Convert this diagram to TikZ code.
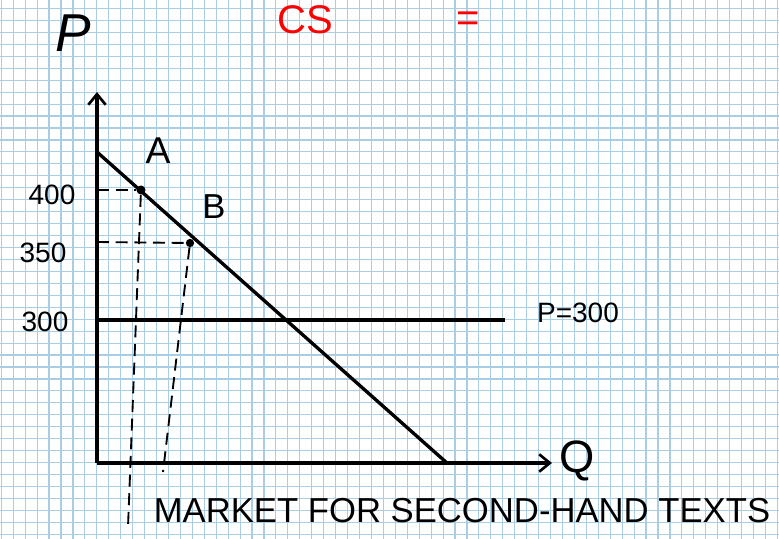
\documentclass[tikz,border=0pt]{standalone}
\usepackage{fontspec}
\setmainfont{Liberation Sans}
\usetikzlibrary{arrows.meta, positioning}

\definecolor{gridblue}{RGB}{168,205,228}

\begin{document}
\begin{tikzpicture}[
    x=0.75pt, y=-0.75pt,
    gridline/.style={draw=gridblue, line width=0.85pt},
    axis/.style={draw, -{Straight Barb[length=8pt, width=13pt, line width=2pt]}, line width=2.8pt},
    curve/.style={draw, line width=2.5pt},
    guide/.style={draw, line width=1.4pt, dash pattern=on 9pt off 5pt},
    pt/.style={circle, fill, inner sep=2.4pt},
    lbl/.style={font=\fontsize{21}{23}\selectfont},
    redlbl/.style={text=red, font=\fontsize{30}{32}\selectfont}
]
    % Paper
    \useasboundingbox (0,0) rectangle (779,539);
    \fill[white] (0,0) rectangle (779,539);
    \foreach \i in {0,...,65} {
        \draw[gridline] ({1.3+11.94*\i},0) -- ({1.3+11.94*\i},539);
    }
    \foreach \j in {0,...,44} {
        \draw[gridline] (0,{8.5+11.95*\j}) -- (779,{8.5+11.95*\j});
    }

    % Points
    \coordinate (O) at (97,463);
    \coordinate (ytop) at (97,92);
    \coordinate (xend) at (552,463);
    \coordinate (dtop) at (97,152);
    \coordinate (dend) at (447,463);
    \coordinate (h300) at (97,320);
    \coordinate (hend) at (505,320);
    \coordinate (h400) at (97,190);
    \coordinate (h350) at (97,242);
    \coordinate (qa) at (128,527);
    \coordinate (qb) at (163,472);
    \node [pt] (ptA) at (141,190) {};
    \node [pt, inner sep=2.2pt] (ptB) at (190,243) {};

    % Labels
    \node [font=\fontsize{40}{42}\selectfont\itshape] (plab) at (73,33) {P};
    \node [font=\fontsize{34}{36}\selectfont] (qlab) at (577,461) {Q};
    \node [font=\fontsize{28}{30}\selectfont] (alab) at (158,151) {A};
    \node [font=\fontsize{26}{28}\selectfont] (blab) at (214,207) {B};
    \node [lbl] (l400) at (52,195) {400};
    \node [lbl] (l350) at (43,253) {350};
    \node [lbl] (l300) at (45,322) {300};
    \node [lbl] (lp300) at (578,313) {P=300};
    \node [font=\fontsize{26}{28}\selectfont] (title) at (462,511) {MARKET FOR SECOND-HAND TEXTS};
    \node [redlbl] (cs) at (305,20) {CS};
    \node [redlbl] (eq) at (468,22) {=};

    % Axes and lines
    \draw [axis] (O) -- (ytop);
    \draw [axis] (O) -- (xend);
    \draw [curve] (dtop) -- (dend);
    \draw [curve] (h300) -- (hend);

    % Dashed guides
    \draw [guide] (h400) -- (ptA);
    \draw [guide] (h350) -- (ptB);
    \draw [guide] (ptA) -- (qa);
    \draw [guide] (ptB) -- (qb);
\end{tikzpicture}
\end{document}
